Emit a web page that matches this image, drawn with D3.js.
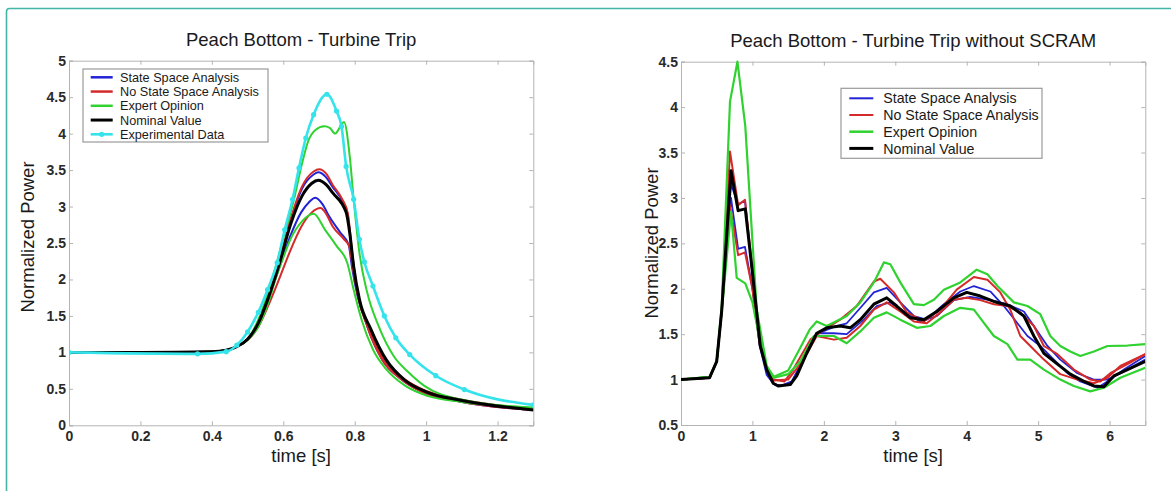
<!DOCTYPE html>
<html><head><meta charset="utf-8">
<script src="https://cdn.jsdelivr.net/npm/d3@7"></script>
<style>body{margin:0;background:#fff}svg{display:block}text{font-family:"Liberation Sans",Arial,sans-serif}</style>
</head><body><svg id="c" width="1171" height="491"></svg>
<script>
// ---------- Left panel data: [time s, normalized power] ----------
const leftTitle = "Peach Bottom - Turbine Trip";
const leftXTicks = [0, 0.2, 0.4, 0.6, 0.8, 1, 1.2];
const leftYTicks = [0, 0.5, 1, 1.5, 2, 2.5, 3, 3.5, 4, 4.5, 5];
const leftLegend = ["State Space Analysis", "No State Space Analysis", "Expert Opinion", "Nominal Value", "Experimental Data"];

const leftBlueHi = [[0,1.0],[0.2,1.0],[0.4,1.01],[0.44,1.03],[0.47,1.08],[0.5,1.18],[0.53,1.4],[0.556,1.73],[0.588,2.22],[0.62,2.8],[0.653,3.25],[0.685,3.44],[0.698,3.47],[0.72,3.4],[0.738,3.27],[0.765,3.08],[0.78,2.9],[0.79,2.45],[0.808,1.82],[0.835,1.36],[0.877,0.9],[0.931,0.63],[0.984,0.47],[1.091,0.33],[1.3,0.21]];
const leftBlueLo = [[0,1.0],[0.2,1.0],[0.4,1.01],[0.44,1.03],[0.47,1.08],[0.5,1.18],[0.53,1.38],[0.556,1.7],[0.588,2.15],[0.62,2.6],[0.65,2.92],[0.672,3.06],[0.69,3.12],[0.71,3.03],[0.728,2.87],[0.76,2.64],[0.783,2.48],[0.792,2.18],[0.808,1.77],[0.84,1.33],[0.88,0.92],[0.94,0.62],[1.0,0.46],[1.1,0.34],[1.3,0.22]];
const leftRedHi = [[0,1.0],[0.2,1.0],[0.4,1.01],[0.44,1.03],[0.47,1.08],[0.5,1.18],[0.53,1.4],[0.556,1.73],[0.588,2.23],[0.62,2.82],[0.653,3.28],[0.685,3.48],[0.701,3.51],[0.72,3.45],[0.738,3.3],[0.765,3.1],[0.781,2.9],[0.792,2.4],[0.808,1.82],[0.835,1.36],[0.877,0.9],[0.931,0.63],[0.984,0.47],[1.091,0.33],[1.3,0.21]];
const leftRedLo = [[0,1.0],[0.2,1.0],[0.4,1.01],[0.44,1.03],[0.47,1.08],[0.5,1.17],[0.53,1.35],[0.556,1.62],[0.588,2.0],[0.62,2.4],[0.65,2.72],[0.68,2.92],[0.704,2.98],[0.72,2.9],[0.738,2.73],[0.77,2.55],[0.785,2.45],[0.795,2.15],[0.81,1.75],[0.84,1.32],[0.88,0.92],[0.94,0.63],[1.0,0.47],[1.1,0.35],[1.3,0.22]];
const leftGreenHi = [[0,1.0],[0.2,1.0],[0.4,1.01],[0.44,1.03],[0.47,1.08],[0.5,1.18],[0.53,1.45],[0.556,1.8],[0.58,2.2],[0.605,2.65],[0.63,3.1],[0.653,3.6],[0.67,3.9],[0.69,4.05],[0.715,4.1],[0.73,4.08],[0.745,4.0],[0.76,4.1],[0.77,4.16],[0.786,3.69],[0.797,3.1],[0.813,2.37],[0.835,1.82],[0.867,1.36],[0.909,0.95],[0.952,0.72],[0.995,0.54],[1.091,0.36],[1.3,0.24]];
const leftGreenLo = [[0,1.0],[0.2,1.0],[0.4,1.01],[0.44,1.03],[0.47,1.08],[0.5,1.17],[0.53,1.35],[0.556,1.65],[0.578,2.0],[0.6,2.3],[0.62,2.55],[0.653,2.8],[0.685,2.9],[0.717,2.68],[0.749,2.46],[0.779,2.23],[0.797,1.86],[0.819,1.45],[0.851,1.04],[0.888,0.77],[0.942,0.54],[1.006,0.4],[1.1,0.32],[1.3,0.24]];
const leftNominal = [[0,1.0],[0.2,1.0],[0.4,1.01],[0.44,1.03],[0.47,1.08],[0.5,1.18],[0.53,1.4],[0.556,1.72],[0.588,2.2],[0.62,2.75],[0.653,3.15],[0.68,3.32],[0.698,3.36],[0.72,3.3],[0.738,3.19],[0.776,2.92],[0.786,2.64],[0.797,2.18],[0.813,1.73],[0.845,1.32],[0.888,0.9],[0.94,0.62],[1.0,0.46],[1.1,0.34],[1.3,0.21]];
const leftExperimental = [[0,1.0],[0.36,0.98],[0.44,1.01],[0.47,1.1],[0.5,1.28],[0.53,1.55],[0.556,1.86],[0.583,2.23],[0.604,2.68],[0.626,3.1],[0.644,3.53],[0.663,3.94],[0.685,4.26],[0.722,4.54],[0.749,4.31],[0.763,4.1],[0.776,3.55],[0.797,3.1],[0.813,2.55],[0.827,2.24],[0.851,1.91],[0.883,1.5],[0.915,1.2],[0.954,0.97],[1.027,0.68],[1.107,0.49],[1.3,0.28]];

// ---------- Right panel data ----------
const rightTitle = "Peach Bottom - Turbine Trip without SCRAM";
const rightXTicks = [0, 1, 2, 3, 4, 5, 6];
const rightYTicks = [0.5, 1, 1.5, 2, 2.5, 3, 3.5, 4, 4.5];
const rightLegend = ["State Space Analysis", "No State Space Analysis", "Expert Opinion", "Nominal Value"];

const rightBlueHi = [[0,1.0],[0.4,1.02],[0.5,1.2],[0.57,1.76],[0.7,3.15],[0.8,2.93],[0.896,2.97],[1.0,2.15],[1.1,1.42],[1.2,1.08],[1.3,0.95],[1.4,0.93],[1.55,0.97],[1.7,1.2],[1.9,1.5],[2.14,1.58],[2.32,1.62],[2.5,1.78],[2.7,1.96],[2.88,2.01],[3.07,1.85],[3.26,1.7],[3.44,1.66],[3.68,1.83],[3.91,1.97],[4.1,2.03],[4.33,1.97],[4.52,1.81],[4.71,1.62],[4.85,1.48],[5.03,1.37],[5.22,1.22],[5.41,1.07],[5.59,0.98],[5.83,0.91],[5.97,0.98],[6.2,1.11],[6.5,1.26]];
const rightBlueLo = [[0,1.0],[0.4,1.02],[0.5,1.2],[0.57,1.75],[0.7,3.0],[0.8,2.44],[0.896,2.46],[1.0,2.0],[1.1,1.38],[1.2,1.05],[1.3,0.95],[1.4,0.93],[1.55,0.98],[1.7,1.2],[1.9,1.51],[2.14,1.51],[2.32,1.5],[2.56,1.66],[2.74,1.81],[2.93,1.85],[3.12,1.75],[3.35,1.64],[3.58,1.7],[3.82,1.875],[4.05,1.91],[4.29,1.88],[4.57,1.83],[4.8,1.75],[4.94,1.59],[5.13,1.37],[5.31,1.22],[5.55,1.07],[5.78,1.0],[5.97,1.0],[6.25,1.11],[6.5,1.22]];
const rightRedHi = [[0,1.0],[0.4,1.02],[0.5,1.2],[0.57,1.77],[0.686,3.51],[0.8,2.92],[0.896,2.98],[1.0,2.2],[1.1,1.45],[1.2,1.12],[1.3,1.0],[1.45,0.98],[1.57,1.11],[1.81,1.44],[2.0,1.55],[2.23,1.66],[2.46,1.81],[2.7,2.08],[2.79,2.11],[2.98,1.96],[3.16,1.74],[3.4,1.64],[3.63,1.77],[3.86,1.99],[4.1,2.13],[4.29,2.1],[4.47,1.96],[4.61,1.77],[4.75,1.48],[4.89,1.37],[5.08,1.22],[5.31,1.06],[5.55,1.0],[5.78,0.96],[5.97,1.02],[6.15,1.15],[6.5,1.28]];
const rightRedLo = [[0,1.0],[0.4,1.02],[0.5,1.2],[0.57,1.75],[0.686,2.92],[0.8,2.37],[0.896,2.4],[1.0,2.0],[1.1,1.4],[1.2,1.1],[1.3,0.99],[1.5,1.0],[1.7,1.2],[1.9,1.48],[2.14,1.44],[2.32,1.46],[2.51,1.59],[2.7,1.77],[2.88,1.85],[3.07,1.75],[3.26,1.64],[3.44,1.62],[3.63,1.74],[3.82,1.88],[4.0,1.9],[4.19,1.875],[4.38,1.83],[4.57,1.81],[4.75,1.74],[4.94,1.59],[5.08,1.37],[5.27,1.28],[5.5,1.11],[5.73,1.0],[5.87,0.98],[6.01,1.07],[6.25,1.17],[6.5,1.28]];
const rightGreenHi = [[0,1.0],[0.4,1.03],[0.5,1.2],[0.57,1.8],[0.686,4.06],[0.79,4.5],[0.9,3.79],[1.06,1.77],[1.2,1.15],[1.3,1.03],[1.5,1.1],[1.67,1.35],[1.8,1.55],[1.9,1.64],[2.04,1.59],[2.32,1.7],[2.51,1.85],[2.7,2.07],[2.84,2.29],[2.93,2.27],[3.07,2.07],[3.26,1.83],[3.4,1.82],[3.54,1.88],[3.68,1.99],[3.91,2.07],[4.14,2.21],[4.29,2.16],[4.43,2.03],[4.66,1.85],[4.85,1.81],[5.03,1.72],[5.17,1.48],[5.31,1.37],[5.45,1.31],[5.59,1.26],[5.78,1.31],[5.97,1.37],[6.25,1.375],[6.5,1.39]];
const rightGreenLo = [[0,1.0],[0.4,1.03],[0.5,1.2],[0.57,1.75],[0.7,2.85],[0.78,2.12],[0.9,2.06],[1.0,1.85],[1.1,1.45],[1.2,1.12],[1.3,1.02],[1.5,1.06],[1.67,1.2],[1.86,1.48],[2.14,1.48],[2.32,1.4],[2.51,1.53],[2.7,1.68],[2.88,1.74],[3.07,1.66],[3.3,1.57],[3.49,1.59],[3.68,1.7],[3.91,1.79],[4.1,1.77],[4.24,1.625],[4.38,1.48],[4.57,1.39],[4.71,1.22],[4.89,1.22],[5.08,1.11],[5.31,1.0],[5.5,0.93],[5.73,0.87],[5.92,0.91],[6.15,1.02],[6.5,1.13]];
const rightNominal = [[0,1.0],[0.4,1.02],[0.5,1.2],[0.57,1.76],[0.7,3.3],[0.8,2.86],[0.9,2.88],[1.0,2.18],[1.11,1.37],[1.2,1.11],[1.29,0.96],[1.36,0.93],[1.53,0.945],[1.62,1.04],[1.76,1.29],[1.9,1.51],[2.04,1.57],[2.23,1.59],[2.37,1.57],[2.51,1.66],[2.7,1.83],[2.88,1.9],[3.02,1.81],[3.21,1.68],[3.4,1.66],[3.58,1.75],[3.82,1.9],[4.0,1.96],[4.19,1.92],[4.38,1.86],[4.61,1.81],[4.8,1.7],[4.94,1.48],[5.08,1.29],[5.27,1.17],[5.45,1.06],[5.64,0.98],[5.78,0.93],[5.92,0.92],[6.06,1.04],[6.25,1.11],[6.5,1.2]];

// ---------- styles ----------
const COL = {blue:"#2323d6", red:"#d42a2a", green:"#2fd22f", black:"#000", cyan:"#35e3ea"};
const svg = d3.select("#c");

// frame
svg.append("rect").attr("x",6.5).attr("y",8.5).attr("width",1200).attr("height",520).attr("rx",3)
  .attr("fill","none").attr("stroke","#45b5a8").attr("stroke-width",1.6);

function panel(o){
  const x = d3.scaleLinear().domain(o.xd).range([o.l,o.r]);
  const y = d3.scaleLinear().domain(o.yd).range([o.b,o.t]);
  const g = svg.append("g");
  const axStyle = sel => { sel.select(".domain").attr("stroke","#b4b4b4");
    sel.selectAll(".tick line").attr("stroke","#b4b4b4");
    sel.selectAll("text").attr("fill","#2a2a2a").style("font-size","14px").style("font-family","Liberation Sans, Arial").style("font-weight","bold"); };
  g.append("g").attr("transform",`translate(0,${o.b})`).call(d3.axisBottom(x).tickValues(o.xt).tickSize(-4).tickPadding(6).tickFormat(d=>d3.format("")(d))).call(axStyle);
  g.append("g").attr("transform",`translate(0,${o.t})`).call(d3.axisTop(x).tickValues(o.xt).tickSize(-4).tickFormat("")).call(axStyle);
  g.append("g").attr("transform",`translate(${o.l},0)`).call(d3.axisLeft(y).tickValues(o.yt).tickSize(-4).tickPadding(3).tickFormat(d=>d3.format("")(d))).call(axStyle);
  g.append("g").attr("transform",`translate(${o.r},0)`).call(d3.axisRight(y).tickValues(o.yt).tickSize(-4).tickFormat("")).call(axStyle);
  const line = d3.line().x(d=>x(d[0])).y(d=>y(d[1])).curve(o.curve);
  const clip = "clip"+o.id;
  svg.append("clipPath").attr("id",clip).append("rect").attr("x",o.l).attr("y",o.t-3).attr("width",o.r-o.l).attr("height",o.b-o.t+3);
  const pg = g.append("g").attr("clip-path",`url(#${clip})`);
  o.series.forEach(s=>{
    pg.append("path").datum(s.data).attr("d",line).attr("fill","none").attr("stroke",s.c).attr("stroke-width",s.w).attr("stroke-linejoin","round");
    if(s.marker) pg.selectAll(null).data(s.data).join("circle").attr("cx",d=>x(d[0])).attr("cy",d=>y(d[1])).attr("r",2.6).attr("fill",s.c);
  });
  // titles
  const cx = (o.l+o.r)/2;
  g.append("text").attr("x",cx).attr("y",o.t-14.5).attr("text-anchor","middle").style("font-size","18.5px").attr("fill","#1a1a1a").text(o.title);
  g.append("text").attr("x",cx).attr("y",o.b+37).attr("text-anchor","middle").style("font-size","18.5px").attr("fill","#1a1a1a").text("time [s]");
  g.append("text").attr("transform",`translate(${o.ylx+6.5},${o.yly}) rotate(-90)`).attr("text-anchor","middle").style("font-size","18.5px").attr("fill","#1a1a1a").text("Normalized Power");
  // legend
  const L = o.legend;
  const lg = g.append("g");
  lg.append("rect").attr("x",L.x).attr("y",L.y).attr("width",L.w).attr("height",L.h).attr("fill","#fff").attr("stroke","#9a9a9a").attr("stroke-width",1.2);
  L.items.forEach((it,i)=>{
    const yy = L.y + L.y0 + i*L.dy;
    lg.append("line").attr("x1",L.x+L.lx1).attr("x2",L.x+L.lx2).attr("y1",yy).attr("y2",yy).attr("stroke",it.c).attr("stroke-width",it.w);
    if(it.marker) lg.append("circle").attr("cx",L.x+(L.lx1+L.lx2)/2).attr("cy",yy).attr("r",2.6).attr("fill",it.c);
    lg.append("text").attr("x",L.x+L.tx).attr("y",yy+L.fs*0.36).style("font-size",L.fs+"px").attr("fill","#1a1a1a").text(it.label);
  });
}

panel({id:"L", l:69, r:533.3, t:60.7, b:425.3, xd:[0,1.3], yd:[0,5], xt:leftXTicks, yt:leftYTicks, title:leftTitle,
  ylx:27, yly:237,
  curve:d3.curveMonotoneX,
  series:[
    {data:leftBlueHi,c:COL.blue,w:2},{data:leftBlueLo,c:COL.blue,w:2},
    {data:leftRedHi,c:COL.red,w:2},{data:leftRedLo,c:COL.red,w:2},
    {data:leftGreenHi,c:COL.green,w:2},{data:leftGreenLo,c:COL.green,w:2},
    {data:leftNominal,c:COL.black,w:3},
    {data:leftExperimental,c:COL.cyan,w:2.6,marker:true}],
  legend:{x:83,y:69,w:185,h:73,y0:8.3,dy:14.25,lx1:7.7,lx2:29.7,tx:37,fs:12.7,
    items:[{label:leftLegend[0],c:COL.blue,w:2.5},{label:leftLegend[1],c:COL.red,w:2.5},{label:leftLegend[2],c:COL.green,w:2.5},{label:leftLegend[3],c:COL.black,w:3},{label:leftLegend[4],c:COL.cyan,w:2.6,marker:true}]}
});

panel({id:"R", l:681, r:1145.3, t:61.7, b:425, xd:[0,6.5], yd:[0.5,4.5], xt:rightXTicks, yt:rightYTicks, title:rightTitle,
  ylx:651.5, yly:243,
  curve:d3.curveLinear,
  series:[
    {data:rightBlueHi,c:COL.blue,w:1.8},{data:rightBlueLo,c:COL.blue,w:1.8},
    {data:rightRedHi,c:COL.red,w:2},{data:rightRedLo,c:COL.red,w:2},
    {data:rightGreenHi,c:COL.green,w:2.2},{data:rightGreenLo,c:COL.green,w:2.2},
    {data:rightNominal,c:COL.black,w:3}],
  legend:{x:841,y:88.3,w:201,h:70,y0:10,dy:16.7,lx1:8.3,lx2:32.3,tx:42.3,fs:14.2,
    items:[{label:rightLegend[0],c:COL.blue,w:2},{label:rightLegend[1],c:COL.red,w:2},{label:rightLegend[2],c:COL.green,w:2.5},{label:rightLegend[3],c:COL.black,w:3}]}
});
</script></body></html>
